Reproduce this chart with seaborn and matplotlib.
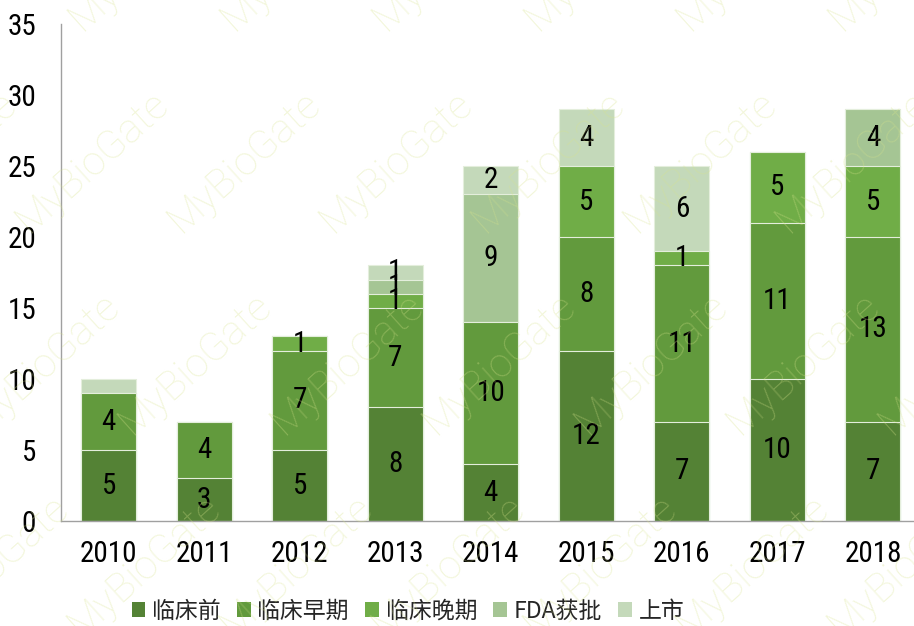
import matplotlib
matplotlib.use("Agg")
import matplotlib.pyplot as plt
from matplotlib import font_manager
from matplotlib.patches import Patch
import pandas as pd
import seaborn as sns

# ---- data -------------------------------------------------------------
years = ["2010", "2011", "2012", "2013", "2014", "2015", "2016", "2017", "2018"]
stages = ["临床前", "临床早期", "临床晚期", "FDA获批", "上市"]

preclinical = [5, 3, 5, 8, 4, 12, 7, 10, 7]
early_clinical = [4, 4, 7, 7, 10, 8, 11, 11, 13]
late_clinical = [0, 0, 1, 1, 0, 5, 1, 5, 5]
fda_approved = [0, 0, 0, 1, 9, 0, 0, 0, 4]
marketed = [1, 0, 0, 1, 2, 4, 6, 0, 0]

colors = ["#548235", "#629A3D", "#70AD47", "#A5C594", "#C4D9BA"]
unlabeled = {("2010", "上市")}

y_ticks = [0, 5, 10, 15, 20, 25, 30, 35]

# ---- fonts ------------------------------------------------------------
sns.set_theme(style="white")
ttf = font_manager.fontManager.ttflist
names = {f.name for f in ttf}
num_font = {"family": "DejaVu Sans", "stretch": "normal"}
for cand in ["Roboto Condensed", "Open Sans Condensed", "Liberation Sans Narrow",
             "DejaVu Sans Condensed"]:
    if cand in names:
        num_font = {"family": cand, "stretch": "normal"}
        break
else:
    if any(f.name == "DejaVu Sans" and f.stretch == "condensed" for f in ttf):
        num_font = {"family": "DejaVu Sans", "stretch": "condensed"}
mark_family = "Roboto" if "Roboto" in names else "DejaVu Sans"
cjk = ["Noto Sans CJK SC", "DejaVu Sans"]
plt.rcParams["font.family"] = [num_font["family"], "Noto Sans CJK SC", "DejaVu Sans"]
plt.rcParams["font.stretch"] = num_font["stretch"]

df = pd.DataFrame({
    "year": years,
    "临床前": preclinical,
    "临床早期": early_clinical,
    "临床晚期": late_clinical,
    "FDA获批": fda_approved,
    "上市": marketed,
})
cum = df[stages].cumsum(axis=1)

fig = plt.figure(figsize=(9.14, 6.26), dpi=100)
ax = fig.add_axes([61 / 914, 105 / 626, 859.6 / 914, 497 / 626])

# stacked bars: draw cumulative totals from the top layer down
for i in range(len(stages) - 1, -1, -1):
    sns.barplot(x=df["year"], y=cum[stages[i]], color=colors[i], width=0.575,
                edgecolor="#E4EEDC", linewidth=0.8, saturation=1, ax=ax)

# value labels at the centre of each segment
for xi, yr in enumerate(years):
    bottom = 0
    for s in stages:
        v = df.loc[xi, s]
        if v > 0 and (yr, s) not in unlabeled:
            ax.text(xi, bottom + v / 2, str(v), ha="center", va="center",
                    fontsize=21, color="black", family=num_font["family"],
                    fontstretch=num_font["stretch"])
        bottom += v

ax.set_xlim(-0.5, 8.5)
ax.set_ylim(0, 35)
ax.set_yticks(y_ticks)
ax.set_yticklabels([str(t) for t in y_ticks])
ax.set_xlabel("")
ax.set_ylabel("")
ax.tick_params(axis="both", length=0, labelsize=21, colors="black")
ax.tick_params(axis="y", pad=18)
ax.tick_params(axis="x", pad=14)
for side in ["top", "right"]:
    ax.spines[side].set_visible(False)
for side in ["left", "bottom"]:
    ax.spines[side].set_color("#A0A0A0")
    ax.spines[side].set_linewidth(1.0)

# legend
handles = [Patch(facecolor=c, edgecolor="none") for c in colors]
fig.legend(handles, stages, loc="center", bbox_to_anchor=(408 / 914, 1 - 611 / 626),
           ncol=5, frameon=False, prop={"family": cjk, "size": 16.5},
           handlelength=0.6, handleheight=0.6, handletextpad=0.3,
           columnspacing=0.7)

# watermark
for yc, off in [(-40, 145), (162, 92), (364, 43), (566, -8)]:
    for k in range(-1, 7):
        xc = off + 152 * k
        fig.text(xc / 914, 1 - yc / 626, "MyBioGate", rotation=42,
                 ha="center", va="center", fontsize=29, color="#D8E48C",
                 alpha=0.32, family=mark_family, fontweight="light",
                 rotation_mode="anchor", zorder=10)

fig.savefig("out.png", dpi=100)
